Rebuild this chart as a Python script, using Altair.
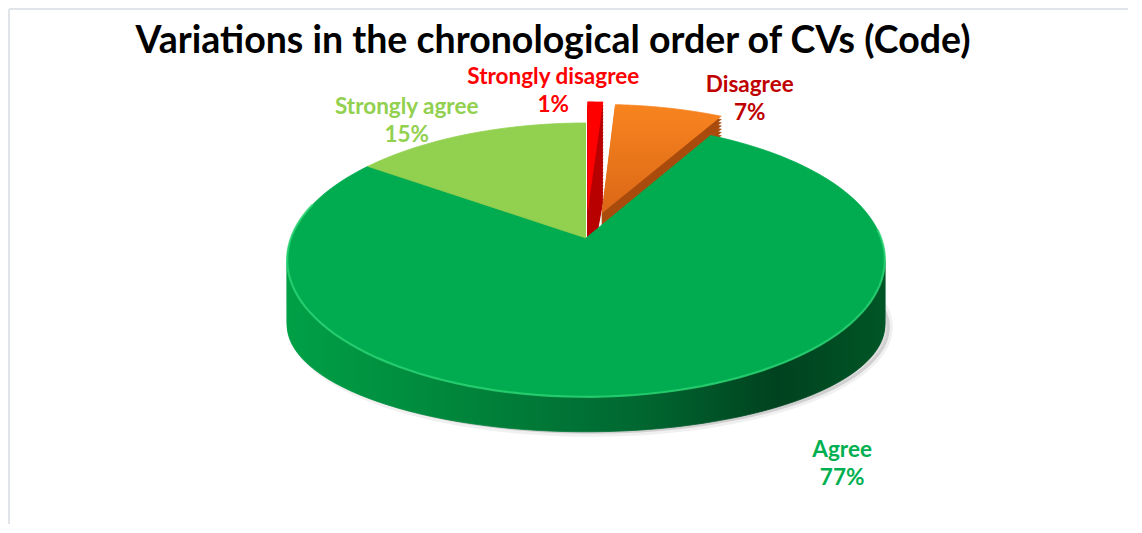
import altair as alt
import pandas as pd

# ---------------- data ----------------
categories = ["Strongly disagree", "Disagree", "Agree", "Strongly agree"]
values = [1, 7, 77, 15]
pct_labels = ["1%", "7%", "77%", "15%"]

df = pd.DataFrame({"cat": categories, "value": values, "ord": list(range(len(categories)))})
df["label"] = [f"{c}\n{p}" for c, p in zip(categories, pct_labels)]

# ---------------- styles ----------------
FONT = "Lato"
TOP_FILL = {
    "Strongly disagree": "#FF0000",
    "Disagree": {"gradient": "linear", "x1": 0, "x2": 0, "y1": 0, "y2": 1,
                 "stops": [{"offset": 0, "color": "#F8841F"}, {"offset": 1, "color": "#DB6717"}]},
    "Agree": "#00AC4F",
    "Strongly agree": "#92D050",
}
SIDE_FILL = {
    "Strongly disagree": "#B80000",
    "Disagree": "#A94B0D",
    "Agree": {"gradient": "linear", "x1": 0, "x2": 1, "y1": 0, "y2": 0,
              "stops": [{"offset": 0, "color": "#00A046"}, {"offset": 0.3, "color": "#00843B"},
                        {"offset": 0.6, "color": "#006630"}, {"offset": 0.82, "color": "#00421F"},
                        {"offset": 1, "color": "#005526"}]},
    "Strongly agree": "#6FA035",
}
LABEL_COLOR = {"Strongly disagree": "#FF0000", "Disagree": "#C00000",
               "Agree": "#00B050", "Strongly agree": "#92D050"}
EXPLODE = {"Strongly disagree": 0.22, "Disagree": 0.2}
# (radius factor, dx) for each label
LABEL_POS = {"Strongly disagree": (1.35, -43), "Disagree": (1.31, 74),
             "Agree": (1.36, 145), "Strongly agree": (1.16, -46)}
LABEL_DY = -13

# ---------------- layout ----------------
W, H = 1120, 466
PAGE_LEFT, PAGE_TOP = 8, 58
CX, CY0 = 586, 238
A, B, K = 295, 133.4, 0.16
DEPTH, B_BOTTOM = 70, 104
N_ARC = 120
N_SIDE = 30

xs = alt.Scale(domain=[PAGE_LEFT, PAGE_LEFT + W], nice=False, zero=False)
ys = alt.Scale(domain=[PAGE_TOP, PAGE_TOP + H], nice=False, zero=False, reverse=True)
X = alt.X("px:Q", scale=xs, axis=None)
Y = alt.Y("py:Q", scale=ys, axis=None)


def stacked(chart):
    return (chart
            .transform_window(cum="sum(value)", sort=[alt.SortField("ord")], frame=[None, 0])
            .transform_joinaggregate(total="sum(value)")
            .transform_calculate(a0="2*PI*(datum.cum - datum.value)/datum.total")
            .transform_calculate(a1="2*PI*datum.cum/datum.total")
            .transform_calculate(mid="(datum.a0 + datum.a1)/2"))


def outline(name, shift, bf):
    ex = EXPLODE.get(name, 0)
    c = stacked(alt.Chart(df)).transform_filter(alt.datum.cat == name)
    c = c.transform_calculate(idx=f"sequence(0, {N_ARC + 2})").transform_flatten(["idx"])
    c = c.transform_calculate(ang=f"datum.a0 + (datum.a1 - datum.a0)*(datum.idx - 1)/{N_ARC}")
    c = c.transform_calculate(u=f"(datum.idx == 0 ? 0 : sin(datum.ang)) + {ex}*sin(datum.mid)")
    c = c.transform_calculate(v=f"(datum.idx == 0 ? 0 : cos(datum.ang)) + {ex}*cos(datum.mid)")
    c = c.transform_calculate(px=f"{CX} + {A}*datum.u/(1 + {K}*datum.v)")
    c = c.transform_calculate(py=f"{CY0} + {shift} - {bf}*datum.v/(1 + {K}*datum.v)")
    return c


def face(name, shift, bf, fill):
    return outline(name, shift, bf).mark_line(
        filled=True, fill=fill, stroke=fill, strokeWidth=0.8).encode(
        x=X, y=Y, order=alt.Order("idx:Q"))


def shadow():
    return outline("Agree", DEPTH, B_BOTTOM).mark_line(
        filled=True, fill="#000000", fillOpacity=0.13, stroke="#000000", strokeOpacity=0.06,
        strokeWidth=6, xOffset=5, yOffset=2).encode(
        x=X, y=Y, order=alt.Order("idx:Q"))


def rim_highlight():
    c = outline("Agree", 0, B).transform_filter("datum.idx > 0 && datum.ang > 1.5 && datum.ang < 5.0")
    return c.mark_line(stroke="#30D878", strokeWidth=2.2, strokeOpacity=0.75).encode(
        x=X, y=Y, order=alt.Order("idx:Q"))


def label(name):
    lr, dx = LABEL_POS[name]
    c = stacked(alt.Chart(df)).transform_filter(alt.datum.cat == name)
    c = c.transform_calculate(u=f"{lr}*sin(datum.mid)")
    c = c.transform_calculate(v=f"{lr}*cos(datum.mid)")
    c = c.transform_calculate(px=f"{CX} + {A}*datum.u/(1 + {K}*datum.v)")
    c = c.transform_calculate(py=f"{CY0} - {B}*datum.v/(1 + {K}*datum.v)")
    return c.mark_text(font=FONT, fontSize=22.5, fontWeight="bold", color=LABEL_COLOR[name],
                       lineBreak="\n", lineHeight=28, dx=dx, dy=LABEL_DY, align="center",
                       baseline="middle").encode(x=X, y=Y, text="label:N")


layers = []
# frame lines (top and left)
frame_src = alt.Chart(df.head(1))
layers.append(frame_src.mark_rule(color="#E1E5EA", strokeWidth=2).encode(
    x=alt.value(1), x2=alt.value(W), y=alt.value(9 - PAGE_TOP)))
layers.append(frame_src.mark_rule(color="#E1E5EA", strokeWidth=2).encode(
    x=alt.value(1), y=alt.value(9 - PAGE_TOP), y2=alt.value(H)))

layers.append(shadow())

# extruded sides, from the bottom up
for i in range(N_SIDE, 0, -1):
    f = i / N_SIDE
    shift = round(DEPTH * f, 2)
    bf = round(B + (B_BOTTOM - B) * f, 2)
    for name in ["Strongly agree", "Strongly disagree", "Disagree", "Agree"]:
        layers.append(face(name, shift, bf, SIDE_FILL[name]))

# top faces
for name in ["Agree", "Strongly agree", "Disagree", "Strongly disagree"]:
    layers.append(face(name, 0, B, TOP_FILL[name]))
layers.append(rim_highlight())

for name in categories:
    layers.append(label(name))

chart = alt.layer(*layers).properties(
    width=W, height=H, padding=0,
    title=alt.TitleParams("Variations in the chronological order of CVs (Code)",
                          font=FONT, fontSize=37.5, fontWeight="bold", color="#000000",
                          anchor="middle", dx=-15, offset=-52),
).configure_view(stroke="transparent")

chart.save("out.html", embed_options={"renderer": "svg", "actions": False})
